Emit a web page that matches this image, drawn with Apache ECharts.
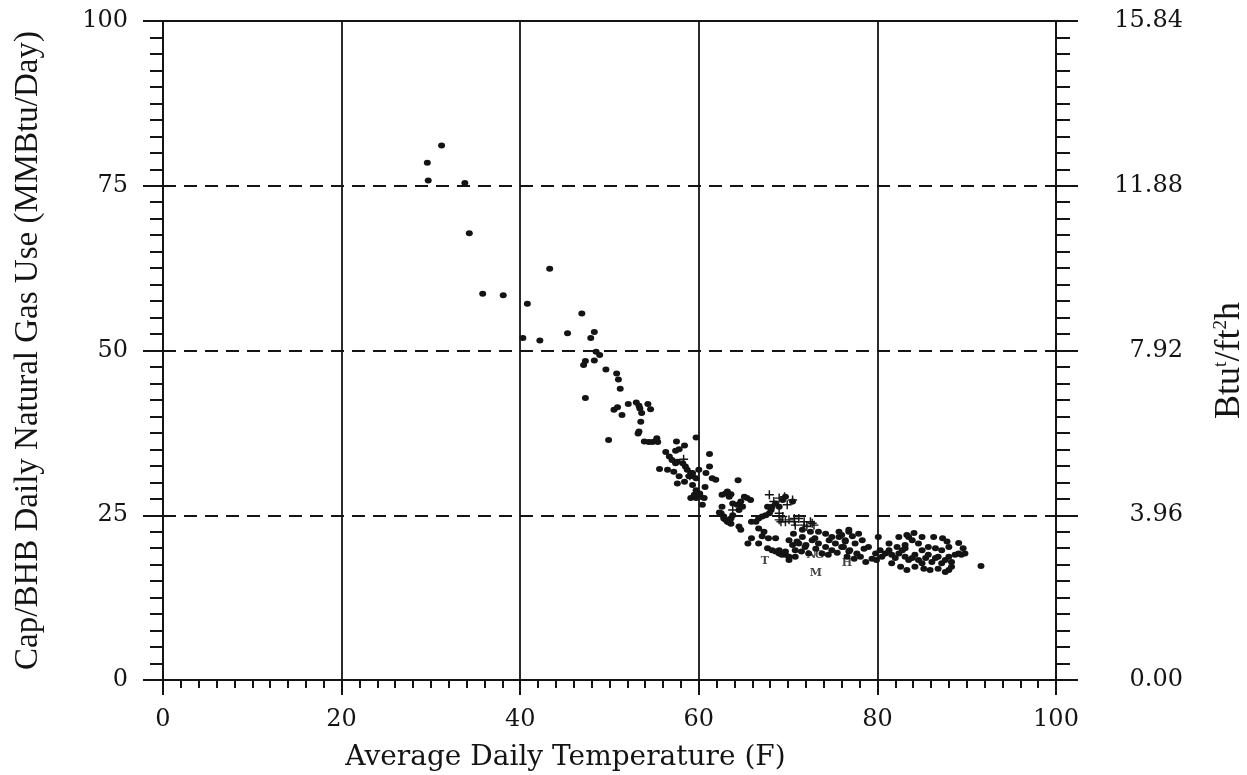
<!DOCTYPE html>
<html>
<head>
<meta charset="utf-8">
<script src="https://cdn.jsdelivr.net/npm/echarts@6/dist/echarts.min.js"></script>
<style>
html,body{margin:0;padding:0;background:#fff;}
#chart{width:1247px;height:775px;}
</style>
</head>
<body>
<div id="chart"></div>
<script>
// ---- Data ----
const xTicks = [0, 20, 40, 60, 80, 100];
const leftTicks = [0, 25, 50, 75, 100];
const rightTicks = [0.00, 3.96, 7.92, 11.88, 15.84];

// Daily observations: [average daily temperature (F), gas use (MMBtu/Day)]
const dots = [
  [31.2,81.1],[29.6,78.5],[29.7,75.8],[33.8,75.4],[34.3,67.8],[35.8,58.6],[38.1,58.4],[43.3,62.4],
  [40.8,57.1],[40.3,51.9],[42.2,51.5],[45.3,52.6],[46.9,55.6],[48.3,52.8],[47.9,51.9],[48.5,49.8],
  [48.9,49.3],[47.3,48.4],[47.1,47.8],[48.3,48.5],[49.6,47.1],[50.8,46.5],[51.0,45.6],[51.2,44.2],
  [47.3,42.8],[50.5,41.0],[50.9,41.4],[51.4,40.2],[52.1,41.9],[53.0,42.1],[53.3,41.6],[53.4,41.2],
  [53.6,40.5],[54.3,41.9],[54.6,41.1],[53.5,39.2],[53.3,37.7],[53.2,37.4],[49.9,36.4],[53.9,36.2],
  [54.4,36.1],[55.2,36.3],[54.8,36.1],[55.3,36.7],[55.4,36.1],
  [57.5,36.2],[58.4,35.6],[57.4,34.8],[57.8,35.0],[59.7,36.8],[61.2,34.3],
  [56.3,34.6],[56.7,33.9],[57.0,33.4],[57.4,32.9],[57.6,33.1],[58.2,32.9],[58.5,32.4],[58.7,31.9],
  [59.1,31.4],[59.3,30.9],[59.7,30.6],[55.6,32.0],[56.5,31.9],[57.2,31.6],[57.8,30.9],[57.6,29.8],
  [58.4,30.1],[58.9,30.9],[59.3,31.4],[60.0,31.9],[60.8,31.4],[61.2,32.4],[61.5,30.6],[61.9,30.4],
  [59.3,29.6],[59.7,28.8],[60.1,28.3],[59.1,27.6],[59.7,27.6],[60.2,27.8],[60.6,27.6],[59.5,28.1],
  [60.4,26.6],[60.7,29.3],[64.4,30.3],
  [63.0,28.3],[63.4,27.8],[62.6,28.1],[63.2,28.6],[63.6,28.2],
  [62.3,25.4],[62.8,24.8],[63.0,24.3],[63.4,23.9],[63.6,23.7],[62.6,26.3],[63.8,26.8],[64.3,26.6],
  [64.7,27.1],[65.1,27.8],[65.4,27.6],[65.8,27.3],[64.5,25.8],[64.9,26.3],
  [62.5,25.3],[62.8,24.5],[63.2,24.0],[63.6,24.5],[63.8,25.0],
  [64.5,23.3],[64.7,22.8],[65.9,24.0],[65.9,21.5],[65.5,20.7],[66.7,20.7],[67.1,21.8],[67.3,22.5],
  [66.7,23.0],[66.4,24.0],[66.7,24.5],[67.1,24.8],[67.5,25.0],[67.9,25.3],[68.1,25.8],[68.2,26.3],
  [67.7,26.3],[68.6,26.8],[69.0,26.3],[69.7,27.8],[70.5,27.1],[69.4,27.3],
  [67.8,21.5],[68.6,21.5],[67.7,20.0],[68.2,19.7],[69.0,19.7],[69.7,19.0],[70.1,18.2],[70.8,18.7],
  [68.6,19.5],[69.0,19.2],[69.7,19.5],[70.1,18.7],[69.3,19.0],
  [70.1,21.2],[70.5,20.5],[70.8,19.7],[71.2,20.7],[71.6,21.7],[71.9,20.2],[72.3,19.2],[72.7,21.2],
  [73.1,19.9],[73.4,20.7],[73.8,19.2],[74.2,20.2],[74.6,21.2],[74.9,19.7],[75.3,20.7],[75.7,21.7],
  [76.0,20.2],[76.4,21.0],[76.8,19.5],[70.6,22.2],[71.6,22.8],[72.5,22.5],[73.4,22.5],[74.2,22.2],
  [74.9,21.7],[75.7,22.5],[71.0,21.0],[72.0,20.5],[73.0,21.5],[74.5,19.0],[75.5,19.3],[71.5,19.5],
  [76.8,22.5],[77.2,21.8],[76.4,21.2],[77.5,20.7],[76.2,20.2],[76.9,19.7],[77.7,19.2],[76.6,18.7],
  [77.4,18.4],[78.1,18.7],[78.3,21.2],[78.5,19.9],[78.7,17.9],[79.4,18.4],[79.8,19.2],[79.9,18.2],
  [79.0,20.2],[77.9,22.2],[76.8,22.8],[76.0,22.0],
  [80.1,21.7],[80.3,19.7],[80.5,18.7],[80.9,19.2],[81.3,19.7],[81.6,19.0],[82.0,18.5],[82.4,19.2],
  [82.8,19.7],[83.1,18.7],[83.5,18.2],[83.9,18.5],[84.2,19.0],[84.6,18.2],[85.0,17.7],[85.4,18.5],
  [85.7,19.0],[86.1,17.9],[86.5,18.5],[86.8,18.7],[87.2,17.7],[87.6,18.2],[88.0,18.7],[88.3,17.9],
  [88.7,19.0],[89.1,19.2],[89.4,19.0],[89.8,19.2],[81.3,20.7],[82.2,20.2],[83.1,20.5],[83.5,21.7],
  [83.9,21.2],[84.6,20.7],[85.0,19.7],[85.7,20.2],[86.5,20.0],[87.2,19.7],[87.8,21.0],[88.0,20.2],
  [81.6,17.7],[82.6,17.2],[83.3,16.7],[84.2,17.2],[85.2,16.9],[85.9,16.7],[86.8,16.9],[87.6,16.4],
  [88.0,16.7],[88.3,17.2],[83.1,20.0],[91.6,17.3],
  [82.4,21.7],[83.3,22.0],[84.1,22.3],[85.0,21.7],[86.3,21.7],[87.3,21.5],[89.1,20.8],[89.6,20.0]
];

// Observations plotted with "+" marks
const crosses = [
  [69.0,27.6],[69.9,26.6],[70.5,27.3],[69.2,24.0],[70.1,24.3],[70.7,24.0],[71.2,24.5],[71.8,23.5],
  [72.5,24.0],[72.7,23.8],[63.8,25.8],[64.7,26.6],[69.0,24.3],[69.7,24.0],[70.7,24.5],[70.8,23.5],
  [71.8,24.0],[72.1,23.3],[72.9,23.5],[69.0,25.3],[69.4,24.8],[67.9,28.1],[68.4,27.1],[69.6,27.8],
  [59.0,31.0],[58.3,33.5]
];

// Observations plotted with letter marks
const letters = [
  [67.4,18.0,'T'],[73.1,16.2,'M'],[76.6,17.7,'H'],[72.6,18.9,'N'],[73.5,18.9,'G']
];

const ink = '#141414';
const serif = '"DejaVu Serif", serif';
const tallSerif = '"Liberation Serif", serif';

const chart = echarts.init(document.getElementById('chart'), null, {renderer: 'canvas'});
chart.setOption({
  backgroundColor: '#ffffff',
  animation: false,
  grid: {left: 163, right: 191, top: 21, bottom: 95, containLabel: false, outerBoundsMode: 'none'},
  xAxis: [{
    type: 'value', min: xTicks[0], max: xTicks[xTicks.length - 1], interval: 20,
    name: 'Average Daily Temperature (F)', nameLocation: 'middle', nameGap: 64,
    nameTextStyle: {fontFamily: serif, fontSize: 28, color: ink, padding: [0, 88, 0, 0]},
    axisLine: {show: true, onZero: false, lineStyle: {color: ink, width: 2}},
    axisTick: {show: true, inside: false, length: 15, lineStyle: {color: ink, width: 2}},
    minorTick: {show: true, splitNumber: 10, length: 8, lineStyle: {color: ink, width: 2}},
    axisLabel: {margin: 28, fontFamily: serif, fontSize: 24, color: ink},
    splitLine: {show: true, lineStyle: {color: ink, width: 1.8, type: 'solid'}}
  }, {
    type: 'value', position: 'top', min: 0, max: 100,
    axisLine: {show: true, onZero: false, lineStyle: {color: ink, width: 2}},
    axisTick: {show: false}, axisLabel: {show: false}, splitLine: {show: false}
  }],
  yAxis: [{
    type: 'value', position: 'left', min: leftTicks[0], max: leftTicks[leftTicks.length - 1], interval: 25,
    name: 'Cap/BHB Daily Natural Gas Use (MMBtu/Day)', nameLocation: 'middle', nameGap: 118,
    nameTextStyle: {fontFamily: tallSerif, fontSize: 33, color: ink},
    axisLine: {show: true, onZero: false, lineStyle: {color: ink, width: 2}},
    axisTick: {show: true, inside: false, length: 20, lineStyle: {color: ink, width: 2}},
    minorTick: {show: true, splitNumber: 10, length: 13, lineStyle: {color: ink, width: 2}},
    axisLabel: {margin: 35, fontFamily: serif, fontSize: 24, color: ink},
    splitLine: {show: true, lineStyle: {color: ink, width: 1.8, type: [13, 8]}}
  }, {
    type: 'value', position: 'right', min: rightTicks[0], max: rightTicks[rightTicks.length - 1], interval: 3.96,
    name: '{n|Btu}{s|t}{n|/ft}{s|2}{n|h}', nameLocation: 'middle', nameGap: 156, nameRotate: 90,
    nameTextStyle: {
      fontFamily: tallSerif, fontSize: 36, color: ink, padding: [0, 20, 0, 0],
      rich: {
        n: {fontFamily: tallSerif, fontSize: 36, color: ink},
        s: {fontFamily: tallSerif, fontSize: 19, color: ink, verticalAlign: 'top', padding: [0, 0, 14, 0]}
      }
    },
    axisLine: {show: true, onZero: false, lineStyle: {color: ink, width: 2}},
    axisTick: {show: true, inside: false, length: 22, lineStyle: {color: ink, width: 2}},
    minorTick: {show: true, splitNumber: 10, length: 14, lineStyle: {color: ink, width: 2}},
    axisLabel: {margin: 127, align: 'right', fontFamily: serif, fontSize: 24, color: ink,
      formatter: v => Number(v).toFixed(2)},
    splitLine: {show: false}
  }],
  series: [{
    type: 'scatter', name: 'days', xAxisIndex: 0, yAxisIndex: 0,
    data: dots, symbol: 'circle', symbolSize: [7, 6],
    itemStyle: {color: ink, opacity: 1}
  }, {
    type: 'scatter', name: 'plus', xAxisIndex: 0, yAxisIndex: 0,
    data: crosses, symbol: 'path://M0,4.2h10v1.6h-10z M4.2,0h1.6v10h-1.6z', symbolSize: 9,
    itemStyle: {color: ink, opacity: 1}
  }, {
    type: 'scatter', name: 'letters', xAxisIndex: 0, yAxisIndex: 0,
    data: letters, symbolSize: 1, itemStyle: {color: 'rgba(0,0,0,0)'},
    label: {show: true, position: 'inside', formatter: p => p.value[2],
      fontFamily: serif, fontWeight: 'bold', fontSize: 11, color: ink}
  }]
});
</script>
</body>
</html>
